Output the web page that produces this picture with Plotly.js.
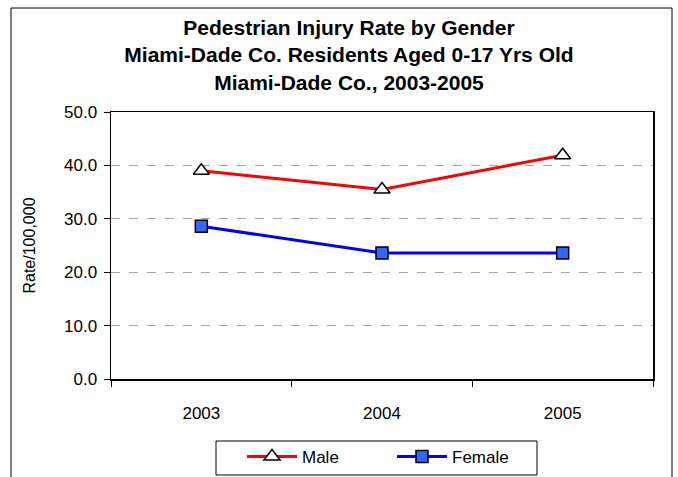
<!DOCTYPE html>
<html>
<head>
<meta charset="utf-8">
<script src="https://cdn.plot.ly/plotly-3.0.1.min.js"></script>
<style>
  html, body { margin: 0; padding: 0; background: #fff; }
  #chart { width: 678px; height: 477px; }
</style>
</head>
<body>
<div id="chart"></div>
<script>
// Chart data
const years = ['2003', '2004', '2005'];
const maleRates = [39.0, 35.5, 41.9];
const femaleRates = [28.6, 23.6, 23.6];
const yTicks = [0, 10, 20, 30, 40, 50];

const FONT = 'Liberation Sans, Arial, sans-serif';

// plot area in pixels: left 111, right 653, top 112, bottom 379
const px = x => (x - 111) / 542;
const py = y => (379 - y) / 267;

const male = {
    x: years,
    y: maleRates,
    type: 'scatter',
    mode: 'lines+markers',
    name: 'Male',
    line: { color: '#ff0000', width: 3 },
    marker: { symbol: 'triangle-up', size: 14, color: '#ffffff', line: { color: '#000000', width: 1.5 } }
};

const female = {
    x: years,
    y: femaleRates,
    type: 'scatter',
    mode: 'lines+markers',
    name: 'Female',
    line: { color: '#0000ff', width: 3 },
    marker: { symbol: 'square', size: 12, color: '#3366ff', line: { color: '#000000', width: 1.5 } }
};

const layout = {
    width: 678,
    height: 477,
    margin: { l: 111, r: 25, t: 112, b: 98, autoexpand: false },
    paper_bgcolor: '#ffffff',
    plot_bgcolor: '#ffffff',
    font: { family: FONT, color: '#000000', size: 16 },
    title: {
        text: 'Pedestrian Injury Rate by Gender<br>Miami-Dade Co. Residents Aged 0-17 Yrs Old<br>Miami-Dade Co., 2003-2005',
        font: { family: FONT, size: 21, color: '#000000', weight: 'bold' },
        x: 349 / 678,
        xanchor: 'center',
        y: 1 - 35 / 477,
        yanchor: 'top'
    },
    xaxis: {
        type: 'category',
        range: [-0.5, 2.5],
        tickson: 'boundaries',
        ticks: 'outside',
        ticklen: 6,
        tickcolor: '#000000',
        showline: true,
        linecolor: '#000000',
        linewidth: 1.5,
        mirror: true,
        showgrid: false,
        tickfont: { size: 17 },
        ticklabelstandoff: 18
    },
    yaxis: {
        range: [0, 50],
        tickvals: yTicks,
        tickformat: '.1f',
        ticks: 'outside',
        ticklen: 6,
        tickcolor: '#000000',
        showline: true,
        linecolor: '#000000',
        linewidth: 1.5,
        mirror: true,
        showgrid: true,
        gridcolor: '#a6a6a6',
        griddash: 'dash',
        gridwidth: 1,
        zeroline: false,
        tickfont: { size: 17 },
        ticklabelstandoff: 3,
        title: { text: 'Rate/100,000', font: { size: 16 }, standoff: 24 }
    },
    legend: {
        orientation: 'h',
        x: px(242),
        xanchor: 'left',
        y: py(457),
        yanchor: 'middle',
        borderwidth: 0,
        bgcolor: 'rgba(0,0,0,0)',
        itemwidth: 50,
        entrywidth: 85,
        font: { size: 17 }
    },
    shapes: [
        {
            // outer chart border
            type: 'rect',
            xref: 'paper', yref: 'paper',
            x0: px(11), x1: px(672),
            y0: py(490), y1: py(8),
            line: { color: '#000000', width: 1 },
            fillcolor: 'rgba(0,0,0,0)',
            layer: 'below'
        },
        {
            // legend box
            type: 'rect',
            xref: 'paper', yref: 'paper',
            x0: px(216), x1: px(537),
            y0: py(475), y1: py(441),
            line: { color: '#000000', width: 1 },
            fillcolor: 'rgba(0,0,0,0)',
            layer: 'below'
        }
    ]
};

Plotly.newPlot('chart', [male, female], layout, { displayModeBar: false, staticPlot: true });
</script>
</body>
</html>
